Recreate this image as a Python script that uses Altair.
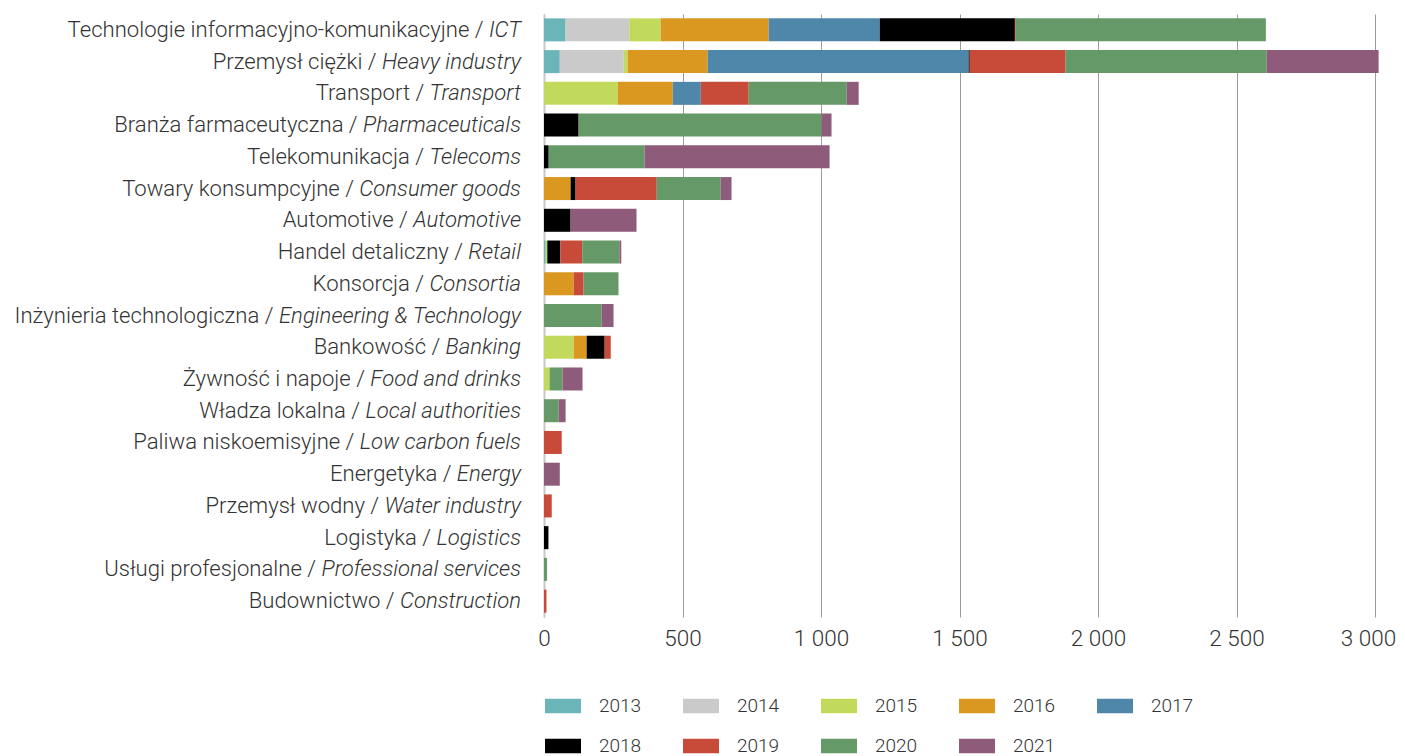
import glob, os
import altair as alt
import pandas as pd

# ---------------- data ----------------
cat_pl = ["Technologie informacyjno-komunikacyjne", "Przemysł ciężki", "Transport",
          "Branża farmaceutyczna", "Telekomunikacja", "Towary konsumpcyjne", "Automotive",
          "Handel detaliczny", "Konsorcja", "Inżynieria technologiczna", "Bankowość",
          "Żywność i napoje", "Władza lokalna", "Paliwa niskoemisyjne", "Energetyka",
          "Przemysł wodny", "Logistyka", "Usługi profesjonalne", "Budownictwo"]
cat_en = ["ICT", "Heavy industry", "Transport", "Pharmaceuticals", "Telecoms", "Consumer goods",
          "Automotive", "Retail", "Consortia", "Engineering & Technology", "Banking",
          "Food and drinks", "Local authorities", "Low carbon fuels", "Energy",
          "Water industry", "Logistics", "Professional services", "Construction"]

years = ["2013", "2014", "2015", "2016", "2017", "2018", "2019", "2020", "2021"]
colors = ["#6bb5b9", "#cacaca", "#c2da5c", "#db9821", "#4f87ab", "#000000", "#c84b39", "#659a68", "#8f5b7b"]

#            ICT  Heavy Trans Pharm Tel  Cons Auto Ret Cons Eng Bank Food Loc LowC Ener Wat Log Prof Bud
v2013 = [78,  57,   0,    0,    0,    0,   0,   6,   0,   0,  0,   0,   0,  0,   0,   0,  0,  0,   0]
v2014 = [230, 231,  0,    0,    0,    0,   0,   0,   0,   0,  0,   0,   0,  0,   0,   0,  0,  0,   0]
v2015 = [113, 14,   266,  0,    0,    0,   0,   6,   0,   0,  107, 20,  0,  0,   0,   0,  0,  0,   0]
v2016 = [390, 289,  199,  0,    0,    96,  0,   0,   107, 0,  47,  0,   0,  0,   0,   0,  0,  0,   0]
v2017 = [401, 942,  101,  0,    0,    0,   0,   0,   0,   0,  0,   0,   0,  0,   0,   0,  0,  0,   0]
v2018 = [488, 4,    0,    125,  17,   18,  96,  47,  0,   0,  65,  0,   0,  0,   0,   0,  16, 0,   0]
v2019 = [3,   346,  173,  0,    0,    293, 0,   79,  36,  0,  22,  0,   0,  64,  0,   28, 0,  0,   9]
v2020 = [903, 726,  354,  877,  346,  231, 0,   134, 126, 208, 0,  47,  53, 0,   0,   0,  0,  11,  0]
v2021 = [0,   404,  43,   36,   668,  39,  238, 7,   0,   43, 0,   72,  25, 0,   57,  0,  0,  0,   0]
series = [v2013, v2014, v2015, v2016, v2017, v2018, v2019, v2020, v2021]

x_ticks = [0, 500, 1000, 1500, 2000, 2500, 3000]

# ---------------- layout constants ----------------
PLOT_W, PLOT_H = 831, 603
X_MAX = 3000
FS = 22.1          # y label font size
GAP = 23           # px between label end and axis
FONT = "Roboto"

# ---------------- text width measurement ----------------
_adv = {' ': 507, 'a': 1088, 'b': 1122, 'c': 1046, 'd': 1126, 'e': 1058, 'f': 694, 'g': 1120,
        'h': 1102, 'i': 486, 'j': 478, 'k': 1013, 'l': 486, 'm': 1751, 'n': 1104, 'o': 1140,
        'p': 1122, 'q': 1133, 'r': 678, 's': 1031, 't': 653, 'u': 1102, 'v': 968, 'w': 1502,
        'x': 991, 'y': 946, 'z': 991, 'A': 1336, 'B': 1275, 'C': 1333, 'D': 1343, 'E': 1164,
        'F': 1132, 'G': 1395, 'H': 1460, 'I': 557, 'L': 1103, 'P': 1292, 'R': 1261, 'T': 1222,
        'W': 1820, '&': 1245, '/': 824}


def _find(names):
    for n in names:
        for root in ["/usr/share/fonts", "/usr/local/share/fonts", os.path.expanduser("~/.fonts"),
                     os.path.expanduser("~/.local/share/fonts")]:
            hits = glob.glob(os.path.join(root, "**", n), recursive=True)
            if hits:
                return hits[0]
    return None


_measure = None
try:
    from PIL import ImageFont
    p = _find(["Roboto-LightItalic.ttf", "Roboto-Italic.ttf", "Roboto-Regular.ttf"])
    if p:
        _f = ImageFont.truetype(p, 200)
        _measure = lambda s: _f.getlength(s) / 200.0
except Exception:
    _measure = None


def text_w(s, size):
    if _measure is not None:
        try:
            return _measure(s) * size
        except Exception:
            pass
    return sum(_adv.get(ch, 1050) for ch in s) / 2048.0 * size


px2u = X_MAX / PLOT_W
sp = text_w(" ", FS)
lab_rows = []
for pl, en in zip(cat_pl, cat_en):
    w_en = text_w(en, FS)
    lab_rows.append({"cat": pl, "pl": pl + " /", "en": en,
                     "x_en": -GAP * px2u,
                     "x_pl": -(GAP + w_en + sp) * px2u})
labels = pd.DataFrame(lab_rows)

rows = []
for yi, (yr, vals) in enumerate(zip(years, series)):
    for c, v in zip(cat_pl, vals):
        if v > 0:
            rows.append({"cat": c, "year": yr, "yi": yi, "value": v})
df = pd.DataFrame(rows)

y_scale = alt.Scale(paddingInner=0.275, paddingOuter=0.1375)
x_scale = alt.Scale(domain=[0, X_MAX], nice=False, zero=True)
y_axis = alt.Axis(labels=False, ticks=False, grid=False, domain=True,
                  domainColor="#c8c8c8", domainWidth=2, title=None)
x_axis = alt.Axis(values=x_ticks, grid=True, gridColor="#9c9c9c", gridWidth=1,
                  domain=False, ticks=False, labelFlush=False,
                  labelFont=FONT, labelFontSize=22.5, labelFontWeight=300,
                  labelColor="#333333", labelPadding=10, title=None,
                  labelOffset={"condition": {"test": "datum.value == 3000", "value": -7}, "value": 0},
                  labelExpr="replace(format(datum.value, ','), ',', ' ')")

bars = alt.Chart(df).mark_bar().encode(
    y=alt.Y("cat:N", sort=cat_pl, title=None, scale=y_scale, axis=y_axis),
    x=alt.X("value:Q", stack="zero", scale=x_scale, title=None, axis=x_axis),
    color=alt.Color("year:N", scale=alt.Scale(domain=years, range=colors),
                    legend=alt.Legend(orient="none", legendX=1, legendY=674,
                                      direction="horizontal", columns=5, title=None,
                                      symbolType="M-1,-0.4H1V0.4H-1Z", symbolSize=1296,
                                      symbolStrokeWidth=0, symbolOpacity=1,
                                      labelFont=FONT, labelFontSize=19, labelFontWeight=300,
                                      labelColor="#333333", labelOffset=18,
                                      columnPadding=41, rowPadding=12, padding=0)),
    order=alt.Order("yi:Q", sort="ascending"),
)

txt_en = alt.Chart(labels).mark_text(
    align="right", baseline="middle", font=FONT, fontSize=FS, fontStyle="italic",
    fontWeight=300, color="#333333"
).encode(y=alt.Y("cat:N", sort=cat_pl, title=None, scale=y_scale, axis=y_axis),
         x=alt.X("x_en:Q", scale=x_scale, title=None, axis=x_axis),
         text="en:N")

txt_pl = alt.Chart(labels).mark_text(
    align="right", baseline="middle", font=FONT, fontSize=FS, fontWeight=300, color="#333333"
).encode(y=alt.Y("cat:N", sort=cat_pl, title=None, scale=y_scale, axis=y_axis),
         x=alt.X("x_pl:Q", scale=x_scale, title=None, axis=x_axis),
         text="pl:N")

chart = alt.layer(bars, txt_en, txt_pl).properties(
    width=PLOT_W, height=PLOT_H,
    autosize=alt.AutoSizeParams(type="none"),
    padding={"left": 536, "top": 6, "right": 22, "bottom": 150},
).configure_view(stroke=None)

chart.save("out.html", embed_options={"renderer": "svg", "actions": False})
